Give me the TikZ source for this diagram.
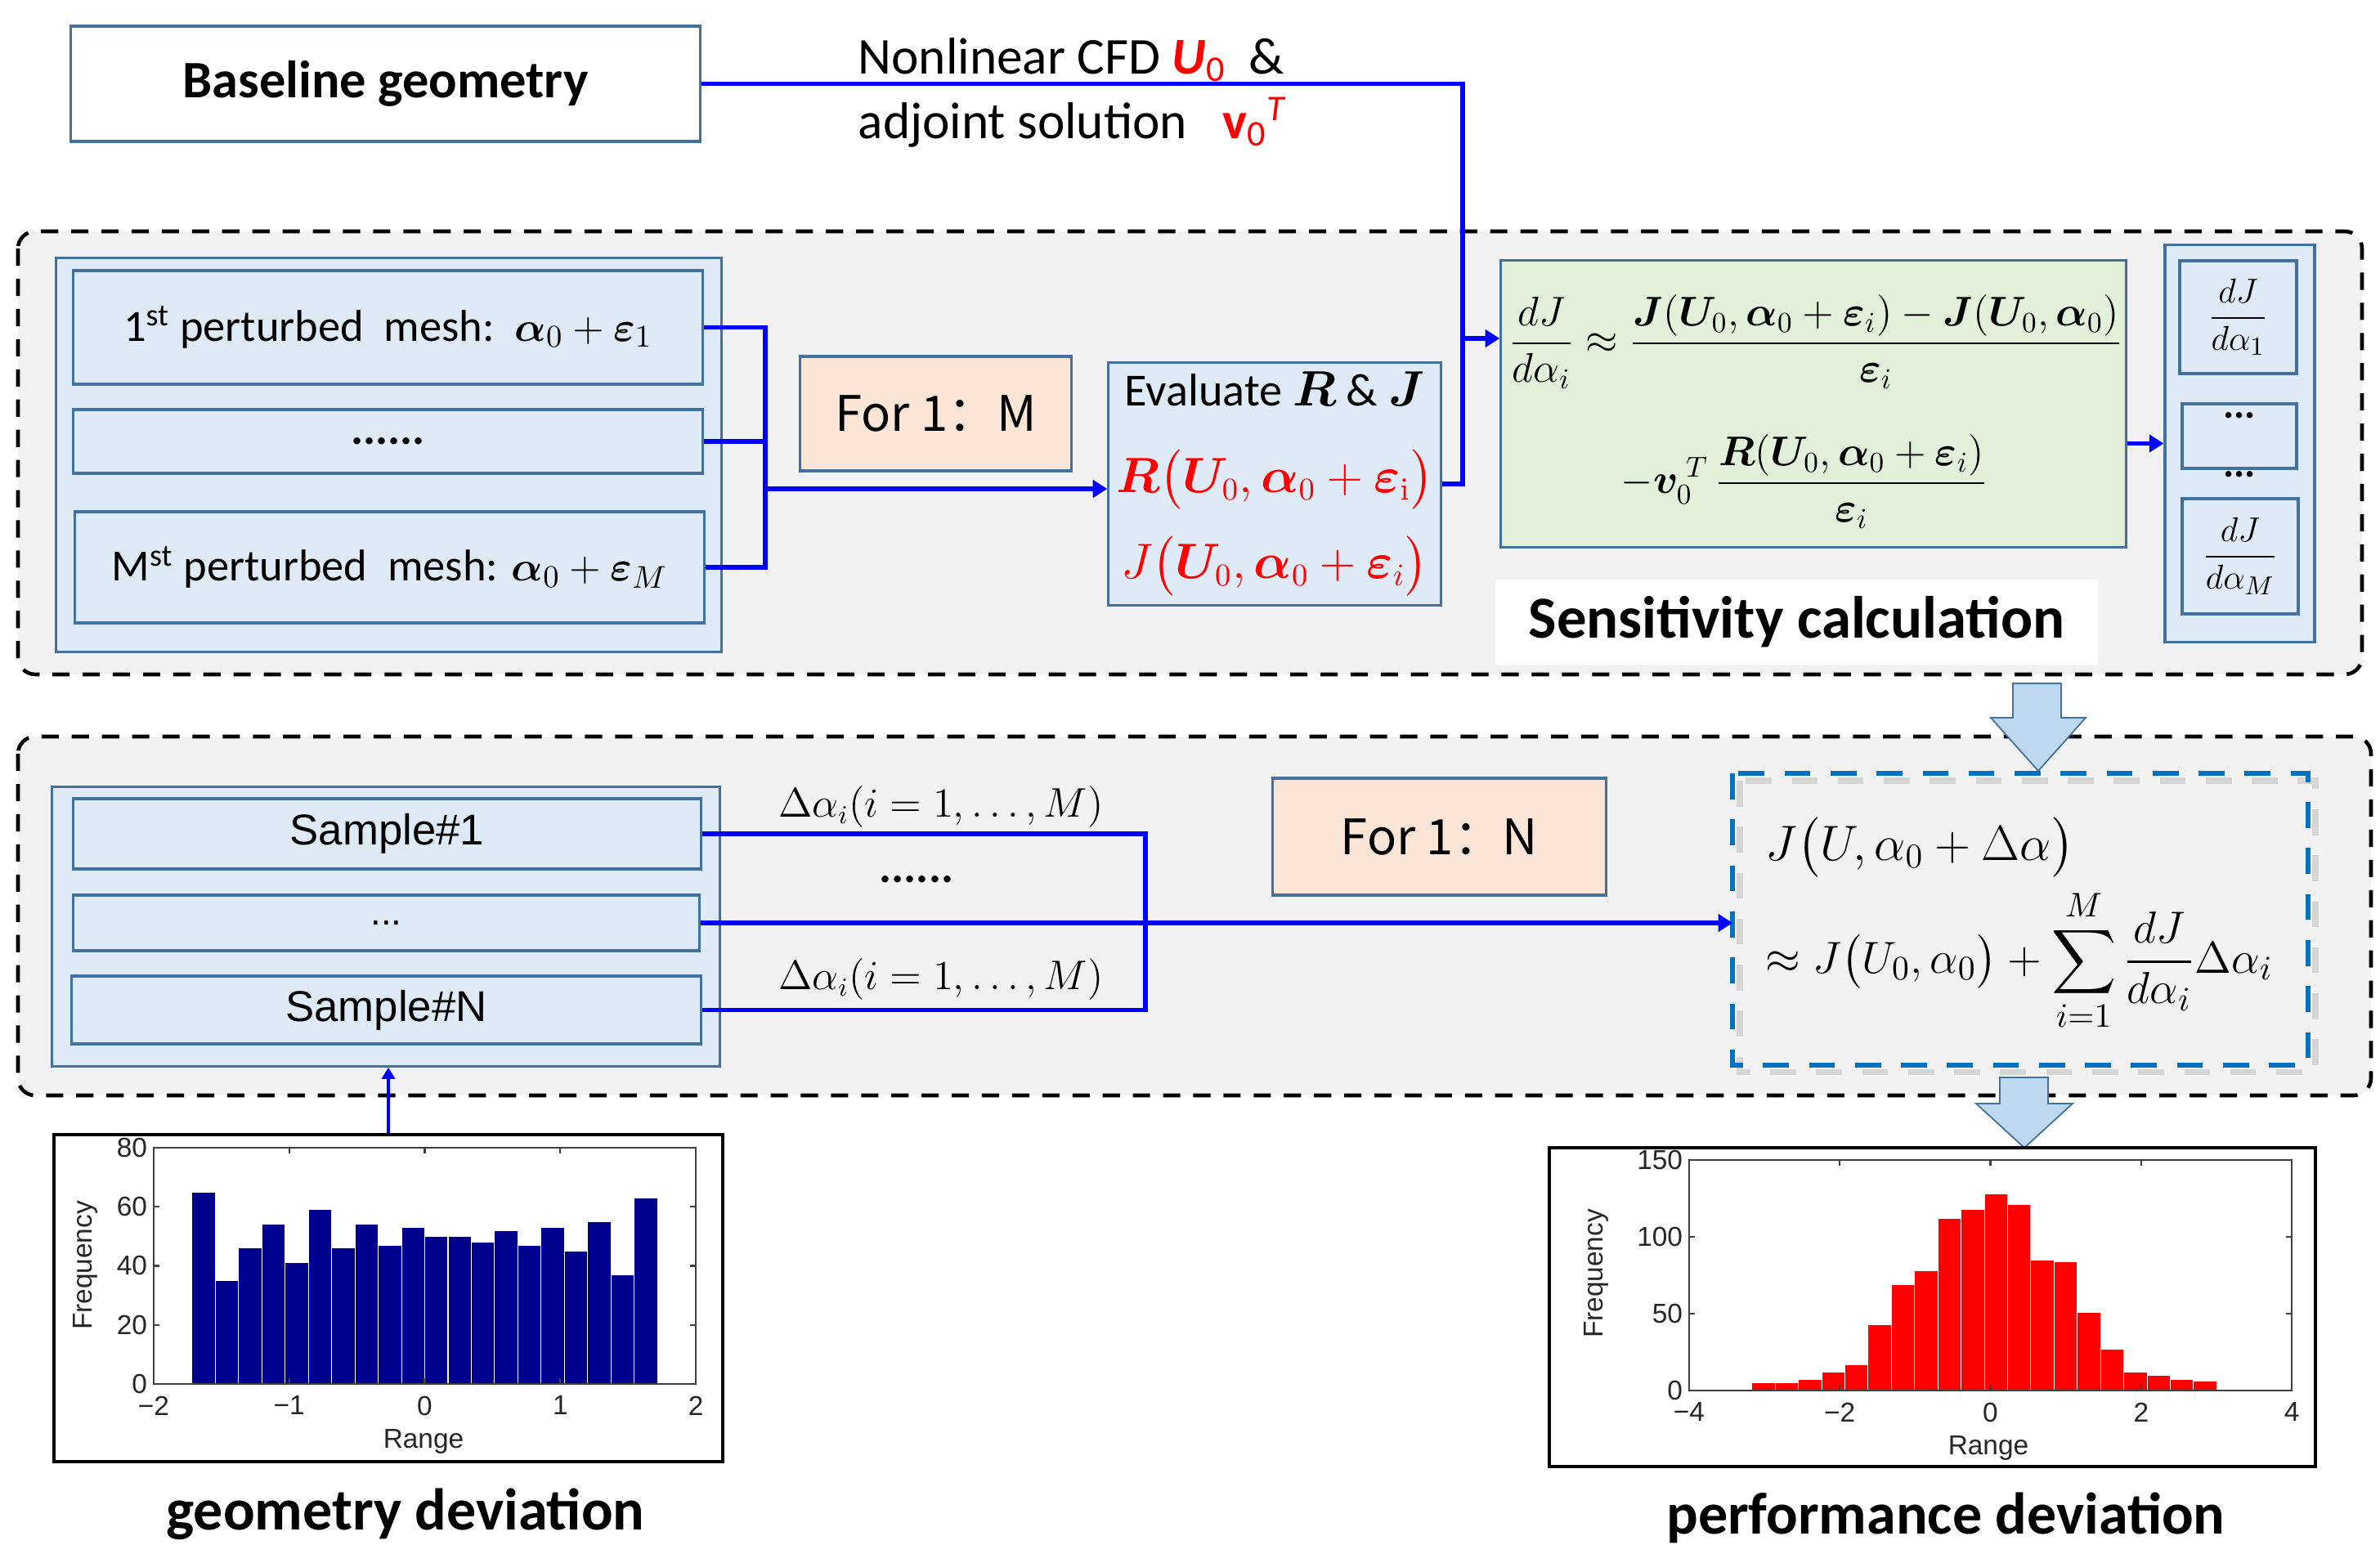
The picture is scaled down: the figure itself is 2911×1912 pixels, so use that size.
\documentclass[tikz,border=0pt]{standalone}
\usepackage{amsmath}
\usepackage{bm}
\usepackage{graphicx}
\usepackage[no-math]{fontspec}
\setmainfont{Carlito}
\newfontfamily\arialfont{Liberation Sans}
\newfontfamily\cjkfont{Noto Sans CJK SC}
\usetikzlibrary{arrows.meta,positioning}
\definecolor{boxline}{HTML}{41719C}
\definecolor{paleblue}{HTML}{DEEBF7}
\definecolor{peach}{HTML}{FBE5D6}
\definecolor{palegreen}{HTML}{E2F0D9}
\definecolor{framegray}{HTML}{F2F2F2}
\definecolor{arrowblue}{HTML}{BDD7EE}
\definecolor{dashblue}{HTML}{0070C0}
\definecolor{navybar}{HTML}{00008F}
\begin{document}
\begin{tikzpicture}[x=0.01cm,y=-0.01cm,
  box/.style={draw=boxline,line width=0.9pt,fill=paleblue,inner sep=0pt,align=center},
  frame/.style={draw=black,line width=1.3pt,dash pattern=on 6pt off 4.5pt,fill=framegray,rounded corners=6pt},
  link/.style={draw=blue,line width=1.6pt},
  arr/.style={link,-{Triangle[length=5pt,width=6pt]}},
  blockarrow/.style={draw=boxline,line width=0.5pt,fill=arrowblue},
  ticklab/.style={font=\arialfont\fontsize{9.5}{10}\selectfont,inner sep=0pt,text=black!85},
  caption/.style={font=\bfseries\fontsize{20.5}{22}\selectfont}]
\fill[white] (0,0) rectangle (2911,1912);
\useasboundingbox (0,0) rectangle (2911,1912);

% the two dashed frames
\draw[frame] (22,283) rectangle (2889,825);
\draw[frame] (22,901) rectangle (2900,1340);

% baseline and CFD
\node[box,fill=white,minimum width=7.69cm,minimum height=1.41cm,font=\bfseries\fontsize{18.3}{20}\selectfont] (base) at (471.5,102.5) {Baseline geometry};
\node[anchor=west,inner sep=0pt,font=\fontsize{18}{20}\selectfont] (cfd) at (1049,73) {Nonlinear CFD {\color{red}\bfseries\itshape U}{\color{red}\textsubscript{0}}\ \ \&};
\node[anchor=west,inner sep=0pt,font=\fontsize{18}{20}\selectfont] (adj) at (1049,150) {adjoint solution\ \ \ {\color{red}\bfseries v}{\color{red}\textsubscript{0}}{\color{red}\textsuperscript{\itshape T}}};

% perturbed meshes
\node[box,minimum width=8.13cm,minimum height=4.81cm] (meshes) at (475.5,556.5) {};
\node[box,minimum width=7.69cm,minimum height=1.39cm,font=\fontsize{15.5}{18}\selectfont] (mesh1) at (474.5,400.5) {1\textsuperscript{st} perturbed\ \ mesh:\ \ $\bm\alpha_0+\bm\varepsilon_1$};
\node[box,minimum width=7.69cm,minimum height=0.78cm,font=\bfseries\fontsize{16}{18}\selectfont] (meshdots) at (474.5,540) {......};
\node[box,minimum width=7.69cm,minimum height=1.36cm,font=\fontsize{15.5}{18}\selectfont] (meshM) at (476.5,694) {M\textsuperscript{st} perturbed\ \ mesh: $\bm\alpha_0+\bm\varepsilon_M$};
\node[box,fill=peach,minimum width=3.31cm,minimum height=1.40cm,font=\cjkfont\fontsize{17}{18}\selectfont] (forM) at (1144.5,506) {For 1：M};
\node[box,minimum width=4.06cm,minimum height=2.97cm,font=\fontsize{16}{30}\selectfont] (eval) at (1559,592) {Evaluate $\bm R$ \& $\bm J$\\
  \textcolor{red}{$\bm R\bigl(\bm U_0,\bm\alpha_0+\bm\varepsilon_{\mathrm i}\bigr)$}\\
  \textcolor{red}{$J\bigl(\bm U_0,\bm\alpha_0+\bm\varepsilon_i\bigr)$}};

% sensitivity
\node[box,fill=palegreen,minimum width=7.64cm,minimum height=3.50cm] (grad) at (2218,494) {};
\node[anchor=west,inner sep=0pt,font=\fontsize{14.3}{17}\selectfont] (eqa) at (1845,418) {$\displaystyle\frac{dJ}{d\alpha_i}\approx\frac{\bm J(\bm U_0,\bm\alpha_0+\bm\varepsilon_i)-\bm J(\bm U_0,\bm\alpha_0)}{\bm\varepsilon_i}$};
\node[anchor=west,inner sep=0pt,font=\fontsize{14.5}{17}\selectfont] (eqb) at (1982,589) {$\displaystyle-\bm v_0^{\;T}\,\frac{\bm R(\bm U_0,\bm\alpha_0+\bm\varepsilon_i)}{\bm\varepsilon_i}$};
\node[fill=white,minimum width=7.37cm,minimum height=1.04cm,inner sep=0pt,font=\bfseries\fontsize{20.7}{22}\selectfont] (sens) at (2197.5,761) {Sensitivity calculation};
\node[box,minimum width=1.83cm,minimum height=4.85cm] (grads) at (2739.5,542.5) {};
\node[box,minimum width=1.43cm,minimum height=1.38cm,font=\fontsize{13}{15}\selectfont] (g1) at (2737.5,388) {$\displaystyle\frac{dJ}{d\alpha_1}$};
\node[box,minimum width=1.40cm,minimum height=0.79cm] (gdots) at (2739,533.5) {};
\node[inner sep=0pt,font=\bfseries\fontsize{14}{16}\selectfont] (gdotsa) at (2739,508) {...};
\node[inner sep=0pt,font=\bfseries\fontsize{14}{16}\selectfont] (gdotsb) at (2739,580) {...};
\node[box,minimum width=1.42cm,minimum height=1.41cm,font=\fontsize{13}{15}\selectfont] (gM) at (2740,680.5) {$\displaystyle\frac{dJ}{d\alpha_M}$};

% connectors, upper part
\coordinate (mj) at (936,598);
\coordinate (jn) at (1789,414);
\draw[link] (mesh1.east) -| (mj);
\draw[link] (meshM.east) -| (mj);
\draw[link] (meshdots.east) -- (meshdots.east -| mj);
\draw[arr] (mj) -- (mj -| eval.west);
\draw[link] (base.east) -| (jn);
\draw[link] (eval.east) -| (jn);
\draw[arr] (jn) -- (jn -| grad.west);
\draw[arr] (grads.west -| grad.east) -- (grads.west);

% block arrow down
\draw[blockarrow] (2462,836) -- (2521,836) -- (2521,878) -- (2551,878) -- (2493,943) -- (2435,878) -- (2462,878) -- cycle;

% samples
\node[box,minimum width=8.16cm,minimum height=3.41cm] (samples) at (472,1133.5) {};
\node[box,minimum width=7.67cm,minimum height=0.86cm,font=\arialfont\fontsize{15}{18}\selectfont] (s1) at (473.5,1020) {Sample\#1};
\node[box,minimum width=7.65cm,minimum height=0.68cm,font=\arialfont\fontsize{13}{18}\selectfont] (sdots) at (472.5,1129) {...};
\node[box,minimum width=7.69cm,minimum height=0.83cm,font=\arialfont\fontsize{15}{18}\selectfont] (sN) at (472.5,1235.5) {Sample\#N};
\node[box,fill=peach,minimum width=4.07cm,minimum height=1.43cm,font=\cjkfont\fontsize{17}{18}\selectfont] (forN) at (1760.5,1023.5) {For 1：N};
\node[inner sep=0pt,font=\fontsize{13.5}{16}\selectfont] (da1) at (1151,987) {$\Delta\alpha_i(i=1,\dots,M)$};
\node[inner sep=0pt,font=\bfseries\fontsize{16}{18}\selectfont] (dadots) at (1121,1076) {......};
\node[inner sep=0pt,font=\fontsize{13.5}{16}\selectfont] (daN) at (1151,1198) {$\Delta\alpha_i(i=1,\dots,M)$};

% taylor box with its shadow
\node[minimum width=7.02cm,minimum height=3.55cm,inner sep=0pt] (taylor) at (2471,1124.5) {};
\draw[black!30,opacity=0.45,line width=2.2pt,dash pattern=on 9pt off 7pt] ([xshift=2.5pt,yshift=-2.5pt]taylor.north west) rectangle ([xshift=2.5pt,yshift=-2.5pt]taylor.south east);
\draw[dashblue,line width=1.8pt,dash pattern=on 9pt off 7pt] (taylor.north west) rectangle (taylor.south east);
\node[anchor=west,inner sep=0pt,font=\fontsize{16.5}{20}\selectfont] (tya) at (2159,1037) {$J\bigl(U,\alpha_0+\Delta\alpha\bigr)$};
\node[anchor=west,inner sep=0pt,font=\fontsize{15}{20}\selectfont] (tyb) at (2159,1175) {\resizebox{6.2cm}{!}{$\displaystyle\approx J\bigl(U_0,\alpha_0\bigr)+\sum_{i=1}^{M}\frac{dJ}{d\alpha_i}\Delta\alpha_i$}};

% connectors, lower part
\coordinate (sj) at (1401,1127);
\draw[link] (s1.east) -| (sj);
\draw[link] (sN.east) -| (sj);
\draw[arr] (sdots.east) -- (sdots.east -| taylor.west);

\draw[blockarrow] (2446,1318) -- (2505,1318) -- (2505,1350) -- (2535,1350) -- (2476,1404) -- (2417,1350) -- (2446,1350) -- cycle;

% geometry histogram
\node[draw,line width=1.2pt,minimum width=8.18cm,minimum height=4.00cm,inner sep=0pt] (hist1) at (475,1588) {};
\draw[blue,line width=1.1pt,-{Triangle[length=4pt,width=4.5pt]}] (hist1.north) -- (hist1.north |- samples.south);
\begin{scope}[shift={(519.5,1693)},x=1.6575cm,y=0.036125cm]
  \foreach \h [count=\i from 0] in {65,35,46,54,41,59,46,54,47,53,50,50,48,52,47,53,45,55,37,63}
    \filldraw[fill=navybar,draw=white,line width=0.3pt] (-1.717+\i*0.1717,0) rectangle ++(0.1717,\h);
  \draw[black!75,line width=0.7pt] (-2,0) rectangle (2,80);
  \foreach \t in {-1,0,1} {
    \draw[black!75,line width=0.6pt] (\t,0) -- ++(0,2pt);
    \draw[black!75,line width=0.6pt] (\t,80) -- ++(0,-2pt);
  }
  \foreach \v in {20,40,60} {
    \draw[black!75,line width=0.6pt] (-2,\v) -- ++(2pt,0);
    \draw[black!75,line width=0.6pt] (2,\v) -- ++(-2pt,0);
  }
  \foreach \t/\l in {-2/−2,-1/−1,0/0,1/1,2/2}
    \node[ticklab,anchor=north,yshift=-4pt] at (\t,0) {\l};
  \foreach \v in {0,20,40,60,80}
    \node[ticklab,anchor=east,xshift=-2pt] at (-2,\v) {\v};
\end{scope}
\node[ticklab,rotate=90] (f1) at (104,1548) {Frequency};
\node[ticklab] (r1) at (518,1763) {Range};
\node[caption] (geo) at (496,1852) {geometry deviation};

% performance histogram
\node[draw,line width=1.2pt,minimum width=9.37cm,minimum height=3.90cm,inner sep=0pt] (hist2) at (2363.5,1599) {};
\begin{scope}[shift={(2434.5,1701)},x=0.92125cm,y=0.0188cm]
  \foreach \h [count=\i from 0] in {5,5,7,12,17,43,69,78,112,118,128,121,85,84,51,27,12,10,7,6}
    \filldraw[fill=red,draw=white,line width=0.3pt] (-3.165+\i*0.3084,0) rectangle ++(0.3084,\h);
  \draw[black!75,line width=0.7pt] (-4,0) rectangle (4,150);
  \foreach \t in {-2,0,2} {
    \draw[black!75,line width=0.6pt] (\t,0) -- ++(0,2pt);
    \draw[black!75,line width=0.6pt] (\t,150) -- ++(0,-2pt);
  }
  \foreach \v in {50,100} {
    \draw[black!75,line width=0.6pt] (-4,\v) -- ++(2pt,0);
    \draw[black!75,line width=0.6pt] (4,\v) -- ++(-2pt,0);
  }
  \foreach \t/\l in {-4/−4,-2/−2,0/0,2/2,4/4}
    \node[ticklab,anchor=north,yshift=-4pt] at (\t,0) {\l};
  \foreach \v in {0,50,100,150}
    \node[ticklab,anchor=east,xshift=-2pt] at (-4,\v) {\v};
\end{scope}
\node[ticklab,rotate=90] (f2) at (1952,1558) {Frequency};
\node[ticklab] (r2) at (2432,1771) {Range};
\node[caption] (perf) at (2380,1857) {performance deviation};
\end{tikzpicture}
\end{document}
